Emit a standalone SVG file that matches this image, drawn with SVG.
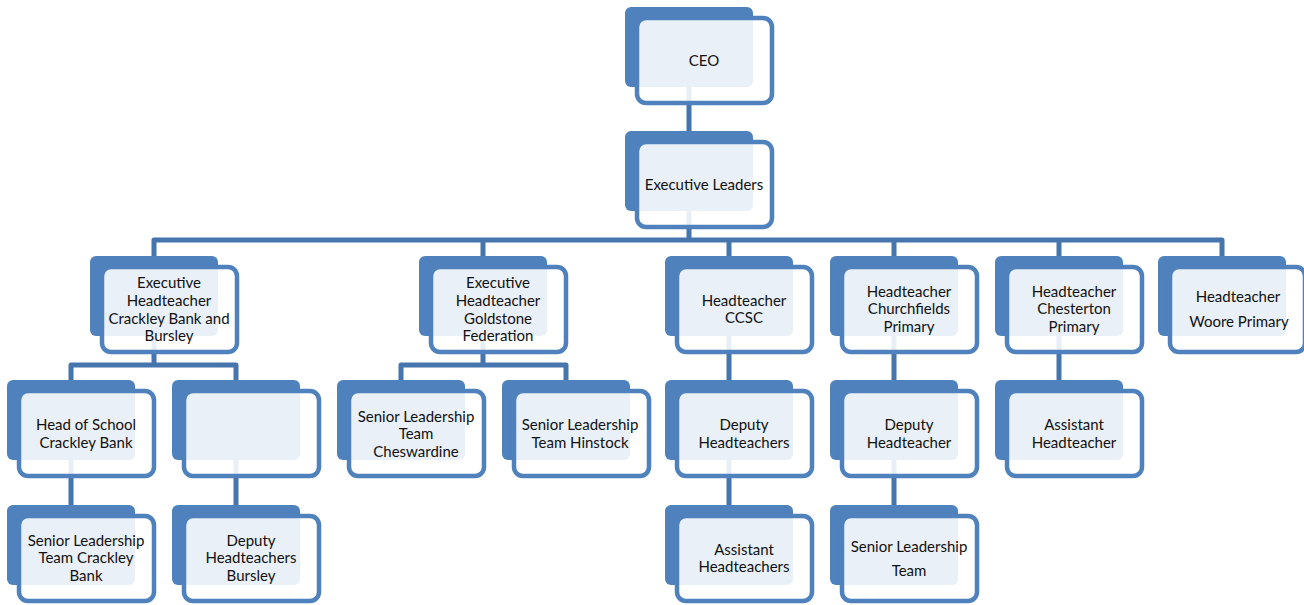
<svg xmlns="http://www.w3.org/2000/svg" width="1304" height="605" viewBox="0 0 1304 605">
<style>
.back{fill:#4f81bd}
.front{fill:#ffffff;fill-opacity:0.88;stroke:#4f81bd;stroke-width:4.5}
.conn{fill:none;stroke:#4674ad;stroke-width:5;stroke-linejoin:round}
text{font-family:Lato,"Liberation Sans",sans-serif;font-size:15px;fill:#111111;text-anchor:middle}
</style>
<rect width="1304" height="605" fill="#ffffff"/>
<g id="connectors">
<path class="conn" d="M689,47 V131"/>
<path class="conn" d="M689,171 V240"/>
<path class="conn" d="M154,262 V240 H1222 V262"/>
<path class="conn" d="M483,240 V262 M729,240 V262 M894,240 V262 M1059,240 V262"/>
<path class="conn" d="M71,386 V365 H236 V386 M154,296 V365"/>
<path class="conn" d="M401,386 V365 H566 V386 M483,296 V365"/>
<path class="conn" d="M729,296 V386 M894,296 V386 M1059,296 V386"/>
<path class="conn" d="M71,420 V510 M236,420 V510 M729,420 V510 M894,420 V510"/>
</g>
<g id="n1"><rect class="back" x="625" y="7" width="128" height="80" rx="6"/><rect class="front" x="637" y="18" width="135" height="85" rx="9"/><text x="704" y="66">CEO</text></g>
<g id="n2"><rect class="back" x="625" y="131" width="128" height="80" rx="6"/><rect class="front" x="637" y="142" width="135" height="85" rx="9"/><text x="704" y="190">Executive Leaders</text></g>
<g id="n3"><rect class="back" x="90" y="256" width="128" height="80" rx="6"/><rect class="front" x="102" y="267" width="135" height="85" rx="9"/><text x="169" y="288">Executive</text><text x="169" y="306">Headteacher</text><text x="169" y="324">Crackley Bank and</text><text x="169" y="341">Bursley</text></g>
<g id="n4"><rect class="back" x="419" y="256" width="128" height="80" rx="6"/><rect class="front" x="431" y="267" width="135" height="85" rx="9"/><text x="498" y="288">Executive</text><text x="498" y="306">Headteacher</text><text x="498" y="324">Goldstone</text><text x="498" y="341">Federation</text></g>
<g id="n5"><rect class="back" x="665" y="256" width="128" height="80" rx="6"/><rect class="front" x="677" y="267" width="135" height="85" rx="9"/><text x="744" y="306">Headteacher</text><text x="744" y="323">CCSC</text></g>
<g id="n6"><rect class="back" x="830" y="256" width="128" height="80" rx="6"/><rect class="front" x="842" y="267" width="135" height="85" rx="9"/><text x="909" y="297">Headteacher</text><text x="909" y="314">Churchfields</text><text x="909" y="332">Primary</text></g>
<g id="n7"><rect class="back" x="995" y="256" width="128" height="80" rx="6"/><rect class="front" x="1007" y="267" width="135" height="85" rx="9"/><text x="1074" y="297">Headteacher</text><text x="1074" y="314">Chesterton</text><text x="1074" y="332">Primary</text></g>
<g id="n8"><rect class="back" x="1158" y="256" width="128" height="80" rx="6"/><rect class="front" x="1170" y="267" width="135" height="85" rx="9"/><text x="1238" y="302">Headteacher</text><text x="1239" y="327">Woore Primary</text></g>
<g id="n9"><rect class="back" x="7" y="380" width="128" height="80" rx="6"/><rect class="front" x="19" y="391" width="135" height="85" rx="9"/><text x="86" y="430">Head of School</text><text x="86" y="448">Crackley Bank</text></g>
<g id="n10"><rect class="back" x="172" y="380" width="128" height="80" rx="6"/><rect class="front" x="184" y="391" width="135" height="85" rx="9"/></g>
<g id="n11"><rect class="back" x="337" y="380" width="128" height="80" rx="6"/><rect class="front" x="349" y="391" width="135" height="85" rx="9"/><text x="416" y="422">Senior Leadership</text><text x="416" y="439">Team</text><text x="416" y="457">Cheswardine</text></g>
<g id="n12"><rect class="back" x="502" y="380" width="128" height="80" rx="6"/><rect class="front" x="514" y="391" width="135" height="85" rx="9"/><text x="580" y="430">Senior Leadership</text><text x="580" y="448">Team Hinstock</text></g>
<g id="n13"><rect class="back" x="665" y="380" width="128" height="80" rx="6"/><rect class="front" x="677" y="391" width="135" height="85" rx="9"/><text x="744" y="430">Deputy</text><text x="744" y="448">Headteachers</text></g>
<g id="n14"><rect class="back" x="830" y="380" width="128" height="80" rx="6"/><rect class="front" x="842" y="391" width="135" height="85" rx="9"/><text x="909" y="430">Deputy</text><text x="909" y="448">Headteacher</text></g>
<g id="n15"><rect class="back" x="995" y="380" width="128" height="80" rx="6"/><rect class="front" x="1007" y="391" width="135" height="85" rx="9"/><text x="1074" y="430">Assistant</text><text x="1074" y="448">Headteacher</text></g>
<g id="n16"><rect class="back" x="7" y="505" width="128" height="80" rx="6"/><rect class="front" x="19" y="516" width="135" height="85" rx="9"/><text x="86" y="546">Senior Leadership</text><text x="86" y="563">Team Crackley</text><text x="86" y="581">Bank</text></g>
<g id="n17"><rect class="back" x="172" y="505" width="128" height="80" rx="6"/><rect class="front" x="184" y="516" width="135" height="85" rx="9"/><text x="251" y="546">Deputy</text><text x="251" y="563">Headteachers</text><text x="251" y="581">Bursley</text></g>
<g id="n18"><rect class="back" x="665" y="505" width="128" height="80" rx="6"/><rect class="front" x="677" y="516" width="135" height="85" rx="9"/><text x="744" y="555">Assistant</text><text x="744" y="572">Headteachers</text></g>
<g id="n19"><rect class="back" x="830" y="505" width="128" height="80" rx="6"/><rect class="front" x="842" y="516" width="135" height="85" rx="9"/><text x="909" y="552">Senior Leadership</text><text x="909" y="576">Team</text></g>
</svg>
